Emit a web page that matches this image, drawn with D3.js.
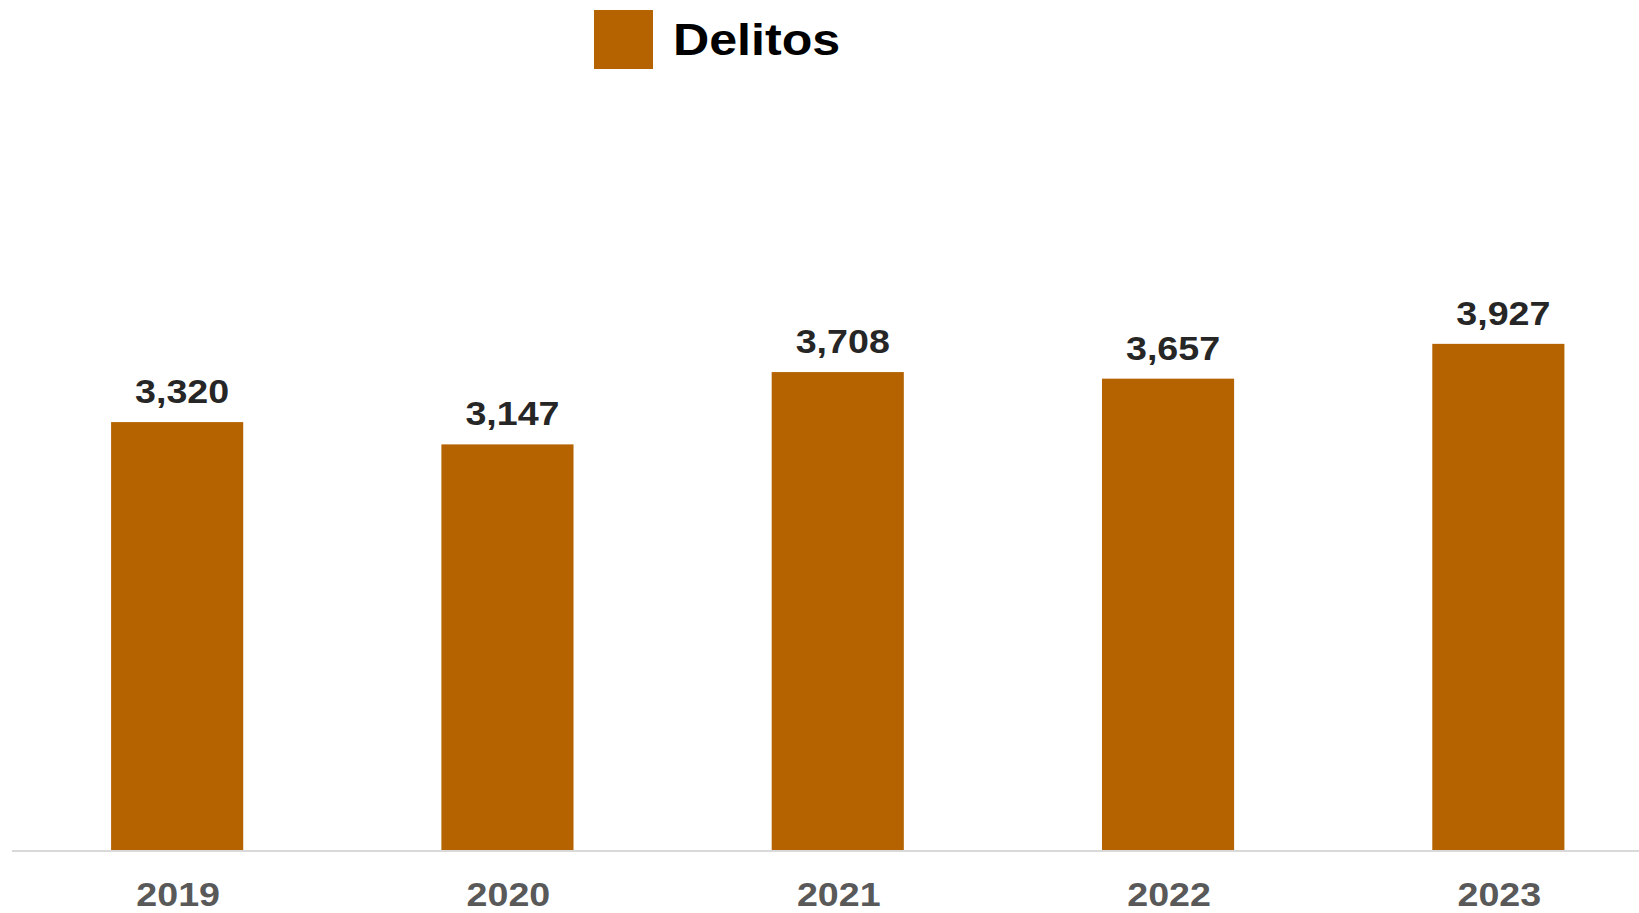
<!DOCTYPE html>
<html>
<head>
<meta charset="utf-8">
<script src="https://cdn.jsdelivr.net/npm/d3@7"></script>
<style>
  body { margin: 0; background: #fff; }
  text { font-family: "Liberation Sans", Arial, sans-serif; font-weight: bold; }
</style>
</head>
<body>
<script>
const width = 1639;
const height = 913;

// data
const years = ["2019", "2020", "2021", "2022", "2023"];
const delitos = [3320, 3147, 3708, 3657, 3927];
const seriesName = "Delitos";

const barColor = "#b56200";
// text in the original is a bit wider than the font renders here
const stretch = 1.14;

const svg = d3
    .select("body")
    .append("svg")
    .attr("width", width)
    .attr("height", height);

const x = d3.scaleBand()
    .domain(years)
    .range([12, 1663.5])
    .paddingInner(0.6)
    .paddingOuter(0.3);

const y = d3.scaleLinear()
    .domain([0, 4500])
    .range([850, 270]);

// bars
svg.selectAll("rect.bar")
    .data(years)
    .enter()
    .append("rect")
    .attr("class", "bar")
    .attr("x", (d) => x(d))
    .attr("width", x.bandwidth())
    .attr("y", (d, i) => y(delitos[i]))
    .attr("height", (d, i) => y(0) - y(delitos[i]))
    .attr("fill", barColor);

// baseline
svg.append("line")
    .attr("x1", 12)
    .attr("x2", width)
    .attr("y1", y(0) + 1)
    .attr("y2", y(0) + 1)
    .attr("stroke", "#d9d9d9")
    .attr("stroke-width", 2);

// value labels
svg.selectAll("text.value")
    .data(years)
    .enter()
    .append("text")
    .attr("class", "value")
    .attr("transform", (d, i) =>
        `translate(${x(d) + x.bandwidth() / 2 + 5},${y(delitos[i]) - 19}) scale(${stretch},1)`)
    .attr("text-anchor", "middle")
    .attr("font-size", 33)
    .attr("fill", "#262626")
    .text((d, i) => d3.format(",")(delitos[i]));

// x axis labels
svg.selectAll("text.year")
    .data(years)
    .enter()
    .append("text")
    .attr("class", "year")
    .attr("transform", (d) =>
        `translate(${x(d) + x.bandwidth() / 2 + 1},906) scale(${stretch},1)`)
    .attr("text-anchor", "middle")
    .attr("font-size", 33)
    .attr("fill", "#595959")
    .text((d) => d);

// legend
svg.append("rect")
    .attr("x", 594)
    .attr("y", 10)
    .attr("width", 59)
    .attr("height", 59)
    .attr("fill", barColor);

svg.append("text")
    .attr("transform", `translate(673,55) scale(${stretch},1)`)
    .attr("font-size", 44)
    .attr("fill", "#000")
    .text(seriesName);
</script>
</body>
</html>
